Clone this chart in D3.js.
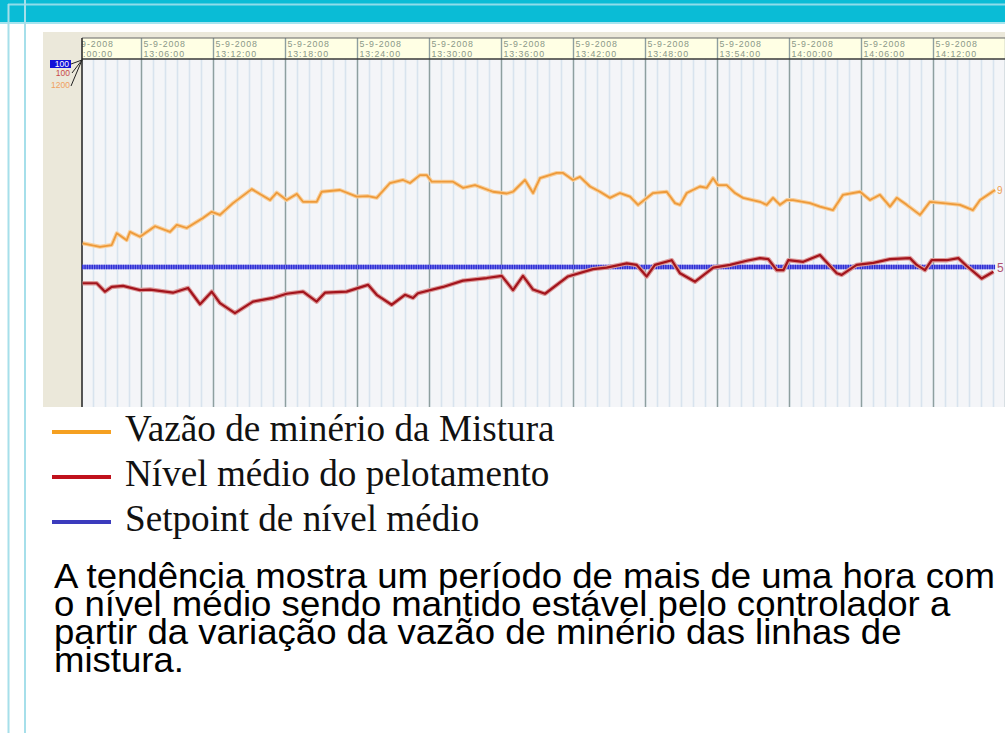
<!DOCTYPE html>
<html><head><meta charset="utf-8">
<script src="https://cdn.jsdelivr.net/npm/d3@7"></script>
<style>body{margin:0;background:#fff;overflow:hidden}svg{display:block}</style>
</head><body>
<svg id="c" width="1005" height="733"></svg>
<script>
// ---- data (minutes after 13:00 on 5-9-2008) ----
const vazaoMin = [1.14,2.58,3.56,3.98,4.81,5.08,5.92,7.17,8.42,8.98,9.81,11.17,11.89,12.58,13.67,15.23,16.75,17.31,18.14,18.98,19.5,20.64,21.06,22.58,23.98,24.92,25.64,26.75,27.83,28.42,29.25,29.81,30.23,32,32.83,33.83,35.33,36.48,37,38,38.67,39.25,40.64,41.17,42,42.58,43.42,44.25,45.08,45.92,46.75,47.42,48.67,49.81,50.5,50.92,51.48,52.58,53.14,53.67,54.08,54.81,55.5,56.17,57.58,58.14,58.67,59.25,59.81,60.33,61.75,62.58,63.67,64.5,65.92,66.75,67.58,68.42,68.98,69.81,70.92,71.75,72.83,74.25,75.33,75.92,77.17];
const vazaoVal = [778,770,774,801,785,804,793,817,804,820,813,836,850,843,870,902,877,894,877,891,873,873,896,900,885,886,882,916,923,916,934,934,919,919,905,911,896,892,896,923,893,927,939,939,923,930,908,896,882,893,885,866,893,896,870,866,893,908,905,927,911,911,893,882,873,866,882,866,877,877,870,862,854,889,896,877,889,862,882,866,843,873,870,866,854,877,900];
const nivelMin = [1.14,2.31,3,3.56,4.5,5.92,6.75,8.67,9.92,10.92,11.89,12.58,13.83,15.33,17,18.14,19.5,20.64,21.33,23.14,24.92,25.64,26.89,28,28.67,29.08,31.17,32.83,34.81,36.06,37,37.83,38.67,39.67,41.58,43.67,44.81,46.48,47.31,48.14,48.83,50.23,50.92,52.17,53.69,55.08,56.48,57.58,58.28,58.98,59.53,59.94,61.19,62.58,63.98,64.39,65.64,67.03,68.42,70.08,70.64,71.33,71.89,73.14,74.11,74.81,76.06,77.03];
const nivelVal = [57.2,57.2,55.6,56.5,56.7,55.9,56.0,55.4,56.3,53.2,55.6,53.4,51.5,53.7,54.4,55.2,55.6,53.7,55.4,55.6,56.9,55.0,53.1,55.0,54.4,55.3,56.5,57.7,58.2,58.6,55.9,58.6,56.0,55.2,58.5,59.9,60.2,61.0,60.7,58.5,60.7,61.6,59.1,57.5,60.2,60.7,61.5,62.0,61.8,59.7,59.7,61.6,61.3,62.6,59.1,58.8,60.7,61.1,61.8,62.0,60.7,59.7,61.6,61.6,62.0,60.5,58.1,59.4];
const setpointMin = [1.08, 77.17];
const setpointVal = [60.3, 60.3];
const scaleLabels = ["100", "100", "1200"];
const endLabels = ["9", "5"];
const dateText = "5-9-2008";
const legendLabels = ["Vazão de minério da Mistura", "Nível médio do pelotamento", "Setpoint de nível médio"];
const noteLines = ["A tendência mostra um período de mais de uma hora com",
                   "o nível médio sendo mantido estável pelo controlador a",
                   "partir da variação da vazão de minério das linhas de",
                   "mistura."];

// ---- setup ----
const base = new Date(2008, 8, 5, 13, 0, 0);
const toDate = m => new Date(base.getTime() + m * 60000);
const svg = d3.select("#c");
const L = 82, T = 59, HT = 38, B = 407, R = 1005;

const x = d3.scaleTime().domain([toDate(0), toDate(78)]).range([69, 1005]);
const yPct = d3.scaleLinear().domain([0, 100]).range([583, T]);
const yFlow = d3.scaleLinear().domain([0, 1200]).range([583, T]);

// slide decoration
svg.append("rect").attr("width", 1005).attr("height", 733).attr("fill", "#fff");
svg.append("rect").attr("x", 0).attr("y", 0).attr("width", 1005).attr("height", 22).attr("fill", "#0abcd6");
svg.append("line").attr("x1", 8).attr("x2", 1005).attr("y1", 4.5).attr("y2", 4.5).attr("stroke", "#8fdcea").attr("stroke-width", 2);
svg.append("line").attr("x1", 0).attr("x2", 1005).attr("y1", 23).attr("y2", 23).attr("stroke", "#a6e4ef").attr("stroke-width", 2);
svg.append("line").attr("x1", 8.5).attr("x2", 8.5).attr("y1", 4).attr("y2", 733).attr("stroke", "#a6dfea").attr("stroke-width", 2);
svg.append("line").attr("x1", 25).attr("x2", 25).attr("y1", 0).attr("y2", 733).attr("stroke", "#a6dfea").attr("stroke-width", 2);

// chart panel
svg.append("rect").attr("x", 43).attr("y", 32).attr("width", R - 43).attr("height", B - 32).attr("fill", "#ebe8da");
svg.append("rect").attr("x", L).attr("y", T).attr("width", R - L).attr("height", B - T).attr("fill", "#f4f5f8");
svg.append("rect").attr("x", L).attr("y", HT).attr("width", R - L).attr("height", T - HT).attr("fill", "#ffffe4");

const defs = svg.append("defs");
defs.append("clipPath").attr("id", "plotClip").append("rect").attr("x", L).attr("y", T).attr("width", R - L).attr("height", B - T);
defs.append("clipPath").attr("id", "headClip").append("rect").attr("x", L).attr("y", HT).attr("width", R - L).attr("height", B - HT);

// minor grid
const minor = svg.append("g").attr("clip-path", "url(#plotClip)").append("g").attr("transform", `translate(0,${B})`)
  .call(d3.axisTop(x).ticks(d3.timeMinute.every(1)).tickSize(B - T).tickFormat(""));
minor.select(".domain").remove();
minor.selectAll("line").attr("stroke", "#d8e3ee").attr("stroke-width", 1.6);

// major grid + header labels
const major = svg.append("g").attr("clip-path", "url(#headClip)").append("g").attr("transform", `translate(0,${B})`)
  .call(d3.axisTop(x).ticks(d3.timeMinute.every(6)).tickSize(B - HT).tickFormat(d3.timeFormat("%H:%M:%S")));
major.select(".domain").remove();
major.selectAll("line").attr("stroke", "#8e9f9f").attr("stroke-width", 1.4);
major.selectAll("text").remove();
major.selectAll(".tick").filter(d => x(d) < 990).each(function(d) {
  const t = d3.select(this).append("text")
    .attr("x", 2).attr("y", -(B - HT)).attr("text-anchor", "start")
    .attr("font-family", "Liberation Sans, Arial, sans-serif").attr("font-size", 8.8)
    .attr("letter-spacing", 0.9).attr("fill", "#8a9888");
  t.append("tspan").attr("x", 2).attr("dy", 8.8).text(dateText);
  t.append("tspan").attr("x", 2).attr("dy", 10).text(d3.timeFormat("%H:%M:%S")(d));
});

// borders
svg.append("line").attr("x1", L).attr("x2", R).attr("y1", HT).attr("y2", HT).attr("stroke", "#666").attr("stroke-width", 1.2);
svg.append("line").attr("x1", L).attr("x2", R).attr("y1", T).attr("y2", T).attr("stroke", "#3a3a3a").attr("stroke-width", 1.6);
svg.append("line").attr("x1", L).attr("x2", L).attr("y1", HT).attr("y2", B).attr("stroke", "#222").attr("stroke-width", 1.5);

// series
const plot = svg.append("g").attr("clip-path", "url(#plotClip)");
function series(mins, vals, ys) { return mins.map((m, i) => [x(toDate(m)), ys(vals[i])]); }
const line = d3.line();

const spPts = series(setpointMin, setpointVal, yPct);
plot.append("path").attr("d", line(spPts)).attr("fill", "none").attr("stroke", "#7f7fec").attr("stroke-width", 4.5);
plot.append("path").attr("d", line(spPts)).attr("fill", "none").attr("stroke", "#2e2ed2").attr("stroke-width", 4.5).attr("stroke-dasharray", "1.4,1");

const vzPts = series(vazaoMin, vazaoVal, yFlow);
plot.append("path").attr("d", line(vzPts)).attr("fill", "none").attr("stroke", "#f8cf9c").attr("stroke-width", 4).attr("stroke-linejoin", "round");
plot.append("path").attr("d", line(vzPts)).attr("fill", "none").attr("stroke", "#ee9a3a").attr("stroke-width", 1.8).attr("stroke-linejoin", "round");

const nvPts = series(nivelMin, nivelVal, yPct);
plot.append("path").attr("d", line(nvPts)).attr("fill", "none").attr("stroke", "#dc9a9a").attr("stroke-width", 4.5).attr("stroke-linejoin", "round");
plot.append("path").attr("d", line(nvPts)).attr("fill", "none").attr("stroke", "#a3141c").attr("stroke-width", 2.2).attr("stroke-linejoin", "round");

// end labels
svg.append("text").attr("x", 997).attr("y", yFlow(vazaoVal[vazaoVal.length - 1]) + 4).attr("font-family", "Liberation Sans, Arial, sans-serif")
  .attr("font-size", 10).attr("fill", "#f0a050").text(endLabels[0]);
svg.append("text").attr("x", 997).attr("y", yPct(setpointVal[0]) + 5).attr("font-family", "Liberation Sans, Arial, sans-serif")
  .attr("font-size", 12).attr("fill", "#b05070").text(endLabels[1]);

// left scale labels
const lblFont = "Liberation Sans, Arial, sans-serif";
svg.append("rect").attr("x", 50).attr("y", 60).attr("width", 21).attr("height", 8).attr("fill", "#1010d8");
svg.append("text").attr("x", 69).attr("y", 67).attr("text-anchor", "end").attr("font-family", lblFont).attr("font-size", 8.5).attr("fill", "#fff").text(scaleLabels[0]);
svg.append("text").attr("x", 70).attr("y", 76).attr("text-anchor", "end").attr("font-family", lblFont).attr("font-size", 8.5).attr("fill", "#c84a4a").text(scaleLabels[1]);
svg.append("text").attr("x", 70).attr("y", 88).attr("text-anchor", "end").attr("font-family", lblFont).attr("font-size", 8.5).attr("fill", "#f0a060").text(scaleLabels[2]);
[[71, 64], [72, 73], [71, 86]].forEach(p => {
  svg.append("line").attr("x1", p[0]).attr("y1", p[1]).attr("x2", L).attr("y2", T + 1).attr("stroke", "#222").attr("stroke-width", 1);
});

// legend
const legendColors = ["#f5a021", "#c0111c", "#3b3bbd"];
legendLabels.forEach((s, i) => {
  const yy = 432 + i * 45;
  svg.append("line").attr("x1", 52).attr("x2", 111).attr("y1", yy).attr("y2", yy).attr("stroke", legendColors[i]).attr("stroke-width", 4);
  svg.append("text").attr("x", 125).attr("y", yy + 9).attr("font-family", "Liberation Serif, Times New Roman, serif")
    .attr("font-size", 37.2).attr("fill", "#111").text(s);
});

// note (slightly condensed height, width matched to the reference)
noteLines.forEach((s, i) => {
  svg.append("text").attr("transform", `translate(54,${588 + i * 28}) scale(1.045,1)`)
    .attr("font-family", "Liberation Sans, Arial, sans-serif")
    .attr("font-size", 35).attr("fill", "#000").text(s);
});
</script>
</body></html>
